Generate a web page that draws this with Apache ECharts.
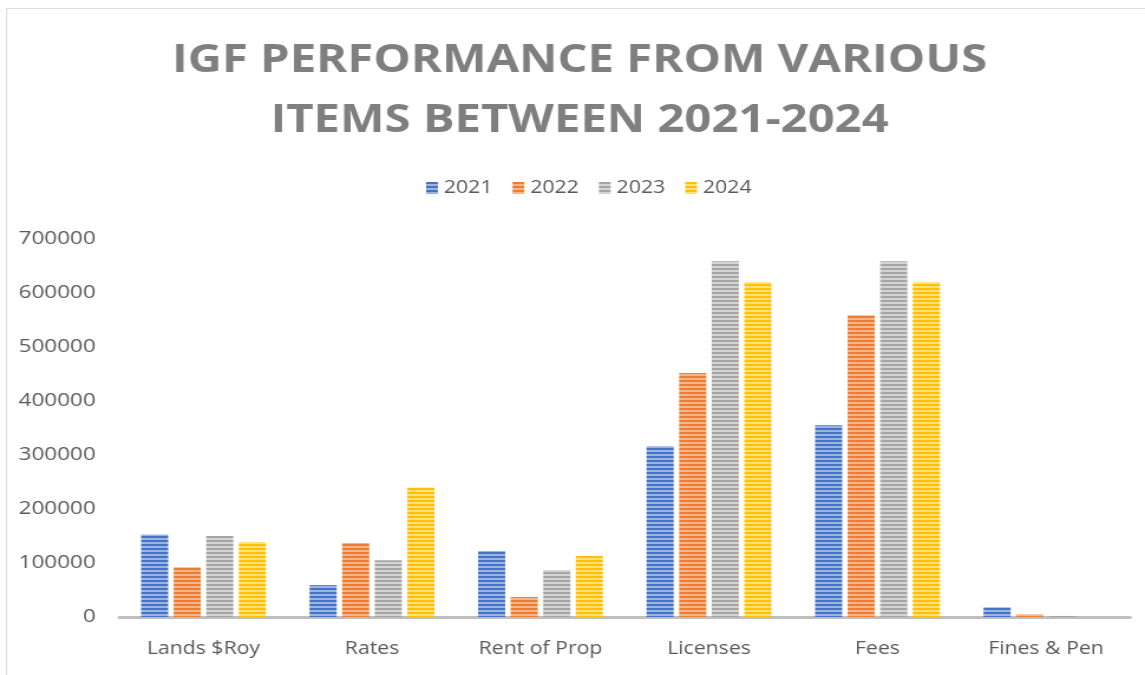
<!DOCTYPE html>
<html><head><meta charset="utf-8">
<script src="https://cdn.jsdelivr.net/npm/echarts@6/dist/echarts.min.js"></script>
<style>html,body{margin:0;padding:0;background:#fff;overflow:hidden}
#c{width:970px;height:675px;transform:scaleX(1.1804);transform-origin:0 0}</style>
</head><body><div id="c"></div>
<script>
const categories = ['Lands $Roy', 'Rates', 'Rent of Prop', 'Licenses', 'Fees', 'Fines & Pen'];
const years = ['2021', '2022', '2023', '2024'];
const v2021 = [153000, 59000, 122000, 316000, 355000, 18000];
const v2022 = [92000, 137000, 37000, 452000, 559000, 5000];
const v2023 = [150000, 105000, 87000, 659000, 659000, 2000];
const v2024 = [139000, 240000, 113000, 620000, 620000, 0];
const yTicks = [0, 100000, 200000, 300000, 400000, 500000, 600000, 700000];

const baseColors = ['#4472c4', '#ed7d31', '#a5a5a5', '#ffc000'];
const lightColors = ['#9bb3e0', '#f5b48a', '#d4d4d4', '#ffdf80'];
function stripe(dark, light) {
  const c = document.createElement('canvas');
  c.width = 4; c.height = 4;
  const g = c.getContext('2d');
  g.fillStyle = light; g.fillRect(0, 0, 4, 4);
  g.fillStyle = dark; g.fillRect(0, 0, 4, 2);
  return { image: c, repeat: 'repeat' };
}
const seriesData = [v2021, v2022, v2023, v2024];
const chart = echarts.init(document.getElementById('c'));
chart.setOption({
  animation: false,
  graphic: [{ type: 'rect', shape: { x: 5.5, y: 8.5, width: 1000, height: 700 }, style: { fill: 'none', stroke: '#d9d9d9', lineWidth: 1 }, silent: true }],
  title: {
    text: 'IGF PERFORMANCE FROM VARIOUS\nITEMS BETWEEN 2021-2024',
    left: 486, top: 26, textAlign: 'center',
    textStyle: { fontFamily: 'Open Sans', fontWeight: 'bold', fontSize: 40, color: '#7f7f7f', lineHeight: 60 }
  },
  legend: {
    data: years, top: 174, left: 356, itemWidth: 10, itemHeight: 12, itemGap: 17, icon: 'rect',
    textStyle: { fontFamily: 'Open Sans', fontSize: 18, color: '#595959' }
  },
  grid: { left: 101, right: 12.5, top: 239, bottom: 58, containLabel: false },
  xAxis: {
    type: 'category', data: categories,
    axisLine: { lineStyle: { color: '#bfbfbf', width: 3 } },
    axisTick: { show: false },
    axisLabel: { fontFamily: 'Open Sans', fontSize: 18, color: '#595959', margin: 23, interval: 0 }
  },
  yAxis: {
    type: 'value', min: yTicks[0], max: yTicks[yTicks.length - 1], interval: 100000,
    axisLine: { show: false }, axisTick: { show: false }, splitLine: { show: false },
    axisLabel: { fontFamily: 'Open Sans', fontSize: 19, color: '#595959', margin: 20, formatter: v => String(v) }
  },
  series: years.map((y, i) => ({
    name: y, type: 'bar', data: seriesData[i], barWidth: 23, barGap: '20%',
    itemStyle: { color: stripe(baseColors[i], lightColors[i]) }
  }))
});
</script></body></html>
